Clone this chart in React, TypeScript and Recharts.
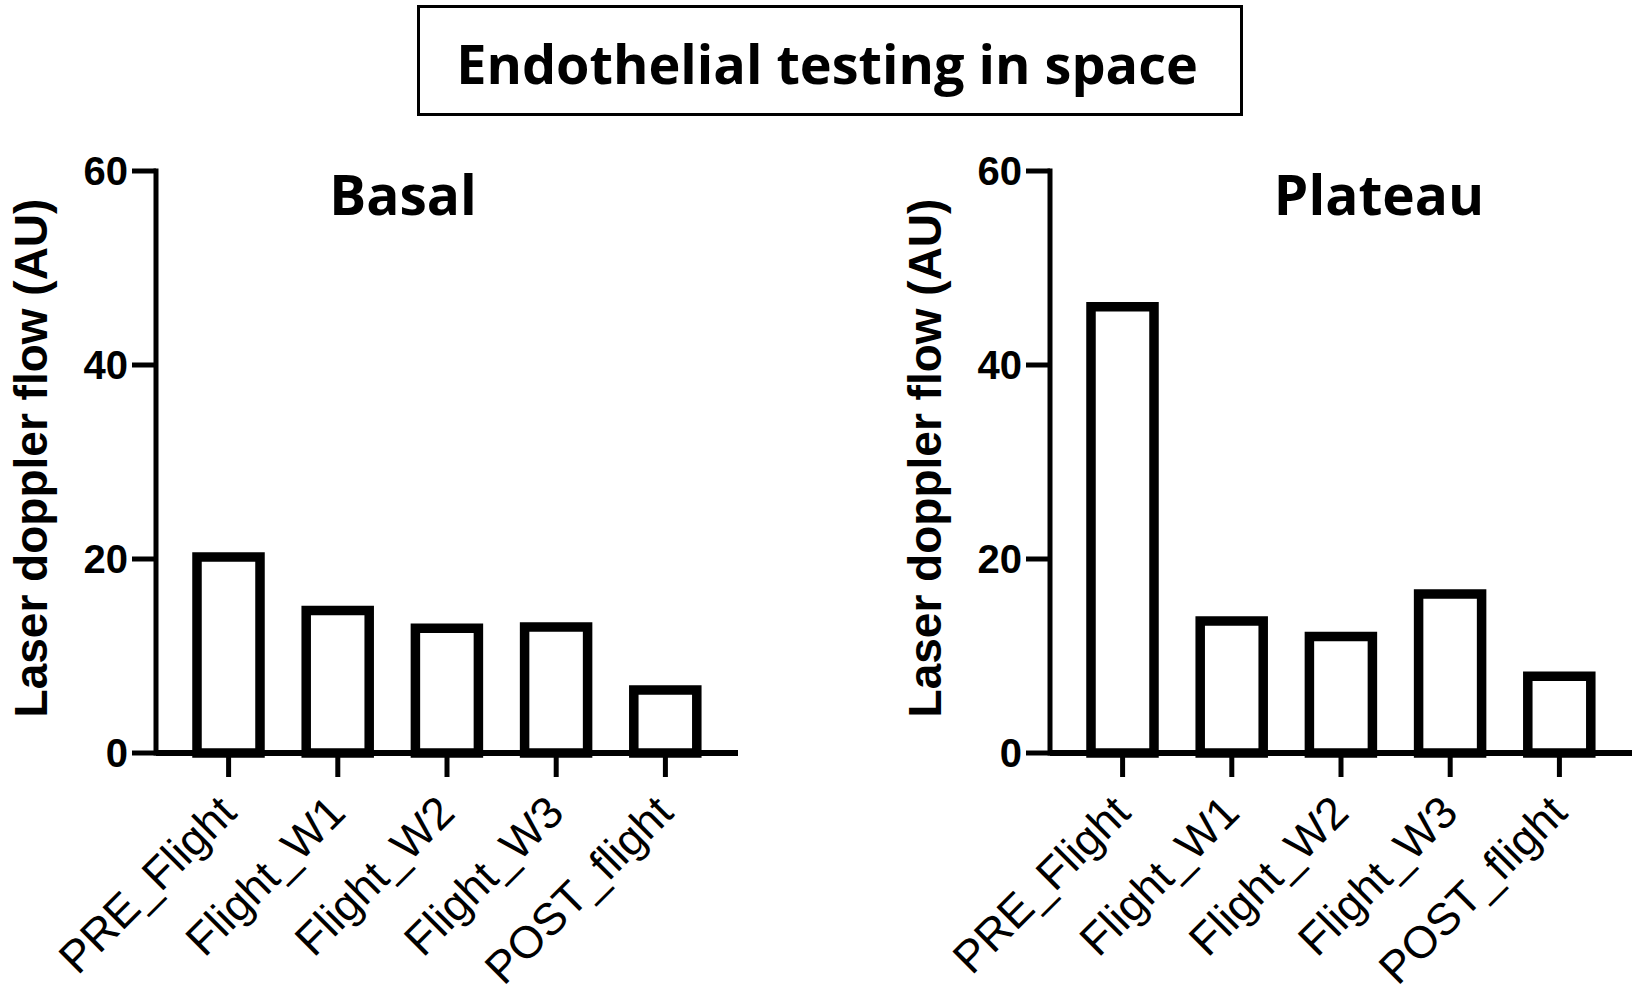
import React from "react";
import { BarChart, Bar, XAxis, YAxis } from "recharts";

const categories = ["PRE_Flight", "Flight_W1", "Flight_W2", "Flight_W3", "POST_flight"];
const basalValues = [20.2, 14.7, 12.85, 13.0, 6.5];
const plateauValues = [46.0, 13.6, 12.0, 16.4, 7.9];
const yTicks = [0, 20, 40, 60];
const mainTitle = "Endothelial testing in space";
const yLabel = "Laser doppler flow (AU)";
const panelTitles = ["Basal", "Plateau"];

const basalData = categories.map((c, i) => ({ name: c, value: basalValues[i] }));
const plateauData = categories.map((c, i) => ({ name: c, value: plateauValues[i] }));

const ARIAL = "'Liberation Sans', Arial, sans-serif";
const CAL = "'Open Sans', Lato, sans-serif";

const XTick = (props: any) => {
  const { x, y, payload } = props;
  const ax = x + 10;
  const ay = y + 38;
  return (
    <text
      x={ax}
      y={ay}
      transform={`rotate(-45 ${ax} ${ay})`}
      textAnchor="end"
      fontFamily={ARIAL}
      fontSize={45}
      fill="#000"
    >
      {payload.value}
    </text>
  );
};

const YTick = (props: any) => {
  const { x, y, payload } = props;
  return (
    <text
      x={x}
      y={y}
      dy="0.36em"
      textAnchor="end"
      fontFamily={ARIAL}
      fontWeight="bold"
      fontSize={40}
      fill="#000"
    >
      {payload.value}
    </text>
  );
};

const YLabel = (props: any) => {
  const vb = props.viewBox || {};
  const x = vb.x + vb.width - 109;
  const cy = vb.y + vb.height / 2 - 4;
  return (
    <text
      x={x}
      y={cy}
      transform={`rotate(-90 ${x} ${cy})`}
      textAnchor="middle"
      fontFamily={ARIAL}
      fontWeight="bold"
      fontSize={46}
      fill="#000"
    >
      {yLabel}
    </text>
  );
};

const Panel = ({ data, left }: { data: any[]; left: number }) => (
  <div style={{ position: "absolute", left, top: 0 }}>
    <BarChart
      width={820}
      height={1001}
      data={data}
      margin={{ top: 171, right: 82, bottom: 48, left: 56 }}
      barSize={63}
    >
      <XAxis
        dataKey="name"
        height={200}
        padding={{ left: 18, right: 18 }}
        axisLine={{ stroke: "#000", strokeWidth: 6 }}
        tickLine={{ stroke: "#000", strokeWidth: 5 }}
        tickSize={24}
        tickMargin={0}
        tick={<XTick />}
        interval={0}
      />
      <YAxis
        width={100}
        domain={[0, 60]}
        ticks={yTicks}
        axisLine={{ stroke: "#000", strokeWidth: 5, strokeLinecap: "square" }}
        tickLine={{ stroke: "#000", strokeWidth: 5 }}
        tickSize={24}
        tickMargin={4}
        tick={<YTick />}
        label={<YLabel />}
      />
      <Bar
        dataKey="value"
        fill="#fff"
        stroke="#000"
        strokeWidth={9.5}
        isAnimationActive={false}
      />
    </BarChart>
  </div>
);

const titleStyle: React.CSSProperties = { fontVariantLigatures: "none" };

export default function App() {
  return (
    <div
      style={{
        position: "absolute",
        left: 0,
        top: 0,
        width: 1643,
        height: 1001,
        overflow: "hidden",
        background: "#fff",
      }}
    >
      <Panel data={basalData} left={0} />
      <Panel data={plateauData} left={894} />
      <svg
        width={1643}
        height={1001}
        style={{ position: "absolute", left: 0, top: 0, pointerEvents: "none" }}
      >
        <rect x={418.5} y={6.5} width={823} height={108} fill="none" stroke="#000" strokeWidth={3} />
        <text x={827} y={84} textAnchor="middle" fontFamily={CAL} fontWeight="bold" fontSize={54} fill="#000" style={titleStyle}>
          {mainTitle}
        </text>
        <text x={403} y={215} textAnchor="middle" fontFamily={CAL} fontWeight="bold" fontSize={55} fill="#000" style={titleStyle}>
          {panelTitles[0]}
        </text>
        <text x={1379} y={215} textAnchor="middle" fontFamily={CAL} fontWeight="bold" fontSize={55} fill="#000" style={titleStyle}>
          {panelTitles[1]}
        </text>
      </svg>
    </div>
  );
}
